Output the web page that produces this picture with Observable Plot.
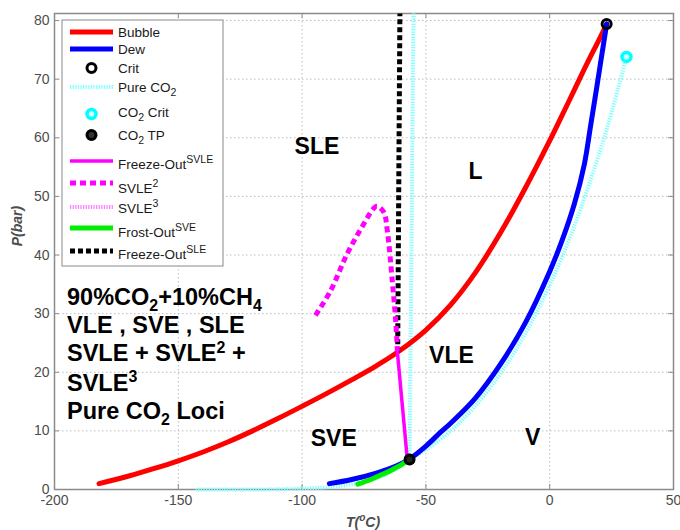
<!DOCTYPE html>
<html><head><meta charset="utf-8">
<script src="https://cdn.jsdelivr.net/npm/d3@7"></script>
<script src="https://cdn.jsdelivr.net/npm/@observablehq/plot@0.6"></script>
<style>body{margin:0;background:#fff;}</style>
</head><body><div id="chart"></div>
<script>
// ---- data ----
const xTicks = [-200, -150, -100, -50, 0, 50];
const yTicks = [0, 10, 20, 30, 40, 50, 60, 70, 80];

const bubbleT = [-182, -170, -160, -150, -140, -130, -120, -110, -100, -90, -80, -70, -61.5, -50, -40, -30, -20, -10, 0, 4.4, 10, 15, 20, 23];
const bubbleP = [1.0, 2.3, 3.55, 4.9, 6.4, 8.1, 10.0, 12.05, 14.2, 16.4, 18.7, 21.1, 23.4, 27.2, 31.5, 37.0, 43.7, 51.3, 59.5, 63.3, 68.2, 72.6, 76.8, 79.4];

const dewT = [-89, -80, -70, -62, -56.6, -50, -45, -40, -30, -20, -10, 0, 5, 10, 14, 16.5, 19, 21, 23];
const dewP = [1.0, 1.7, 2.8, 4.0, 5.2, 7.4, 9.4, 11.3, 15.6, 21.3, 28.3, 37.2, 42.5, 48.8, 55.5, 62.0, 68.6, 74.0, 79.4];

const pureT = [-143, -130, -120, -110, -100, -95, -90, -85, -80, -75, -70, -65, -60, -56.6, -50, -40, -30, -20, -10, 0, 10, 20, 25, 31];
const pureP = [0.0, 0.0, 0.01, 0.04, 0.14, 0.25, 0.38, 0.6, 0.9, 1.3, 1.95, 2.8, 4.1, 5.18, 6.8, 10.0, 14.3, 19.7, 26.5, 34.9, 45.0, 57.3, 64.3, 73.8];
const pureMeltT = [-56.6, -55.0];
const pureMeltP = [5.18, 81.2];

const freezeSvleT = [-61.5, -57.5];
const freezeSvleP = [23.4, 5.1];

const svle2T = [-94.6, -88.5, -81.8, -75.1, -71.0, -69.7, -67.0, -65.6, -63.6, -62.2, -61.5];
const svle2P = [29.7, 33.9, 40.2, 45.3, 48.0, 48.3, 47.3, 44.2, 35.7, 28.8, 23.5];

const frostSveT = [-77.5, -72, -68, -64, -60, -57.5];
const frostSveP = [0.9, 1.75, 2.5, 3.3, 4.2, 4.9];

const freezeSleT = [-61.4, -60.5];
const freezeSleP = [23.4, 81.2];

const critT = [23], critP = [79.4];
const co2CritT = [31.0], co2CritP = [73.8];
const co2TpT = [-56.6], co2TpP = [5.1];

const regionNames = ["SLE", "L", "VLE", "SVE", "V"];
const regionT = [-94.0, -30.0, -39.7, -87.2, -6.9];
const regionP = [58.5, 54.2, 22.9, 8.65, 8.9];

const legendLabels = [
  [["Bubble"]], [["Dew"]], [["Crit"]], [["Pure CO"], ["2", "sub"]],
  [["CO"], ["2", "sub"], [" Crit"]], [["CO"], ["2", "sub"], [" TP"]],
  [["Freeze-Out"], ["SVLE", "sup"]], [["SVLE"], ["2", "sup"]], [["SVLE"], ["3", "sup"]],
  [["Frost-Out"], ["SVE", "sup"]], [["Freeze-Out"], ["SLE", "sup"]]
];
const noteLines = [
  [["90%CO"], ["2", "sub"], ["+10%CH"], ["4", "sub"]],
  [["VLE , SVE , SLE"]],
  [["SVLE + SVLE"], ["2", "sup"], [" +"]],
  [["SVLE"], ["3", "sup"]],
  [["Pure CO"], ["2", "sub"], [" Loci"]]
];

// ---- helpers ----
const rows = (T, P) => T.map((t, i) => ({T: t, P: P[i]}));
const FONT = "'Liberation Sans', Arial, Helvetica, sans-serif";
const frameGray = "#8a8a8a";

const S = {
  bubble: {stroke: "#ff0000", strokeWidth: 5},
  dew: {stroke: "#0000ff", strokeWidth: 5},
  pure: {stroke: "#80ffff", strokeWidth: 4, strokeDasharray: "1.3,1.3", strokeLinecap: "butt"},
  freezeSvle: {stroke: "#ff00ff", strokeWidth: 3.5},
  svle2: {stroke: "#ff00ff", strokeWidth: 5, strokeDasharray: "6,4", strokeLinecap: "butt"},
  svle3: {stroke: "#ff80ff", strokeWidth: 4, strokeDasharray: "1.3,1.3", strokeLinecap: "butt"},
  frost: {stroke: "#00ee00", strokeWidth: 5},
  freezeSle: {stroke: "#000000", strokeWidth: 5, strokeDasharray: "5,3", strokeLinecap: "butt"}
};

const plot = Plot.plot({
  width: 680, height: 530,
  marginLeft: 54, marginRight: 7, marginTop: 13, marginBottom: 41,
  x: {domain: [-200, 50]},
  y: {domain: [0, 81.2]},
  style: {fontFamily: FONT, background: "#fff", color: "#4d4d4d"},
  marks: [
    Plot.gridX(xTicks, {stroke: "#bdbdbd", strokeOpacity: 1, strokeDasharray: "1.5,2.5"}),
    Plot.gridY(yTicks, {stroke: "#bdbdbd", strokeOpacity: 1, strokeDasharray: "1.5,2.5"}),
    Plot.ruleX(xTicks, {x: d => d, y1: 0, y2: 0.85, stroke: frameGray}),
    Plot.ruleX(xTicks, {x: d => d, y1: 80.35, y2: 81.2, stroke: frameGray}),
    Plot.ruleY(yTicks, {y: d => d, x1: -200, x2: -198, stroke: frameGray}),
    Plot.ruleY(yTicks, {y: d => d, x1: 48, x2: 50, stroke: frameGray}),
    Plot.frame({stroke: frameGray, strokeWidth: 1.5}),
    Plot.axisX(xTicks, {tickSize: 0, tickPadding: 6, tickFormat: d => String(d), fontSize: 14, label: null}),
    Plot.axisY(yTicks, {tickSize: 0, tickPadding: 5, tickFormat: d => String(d), fontSize: 14, label: null}),
    Plot.line(rows(pureT, pureP), {x: "T", y: "P", ...S.pure, curve: "catmull-rom"}),
    Plot.line(rows(pureMeltT, pureMeltP), {x: "T", y: "P", ...S.pure}),
    Plot.line(rows(bubbleT, bubbleP), {x: "T", y: "P", ...S.bubble, curve: "catmull-rom"}),
    Plot.line(rows(dewT, dewP), {x: "T", y: "P", ...S.dew, curve: "catmull-rom"}),
    Plot.line(rows(frostSveT, frostSveP), {x: "T", y: "P", ...S.frost, curve: "catmull-rom"}),
    Plot.line(rows(freezeSleT, freezeSleP), {x: "T", y: "P", ...S.freezeSle}),
    Plot.line(rows(freezeSvleT, freezeSvleP), {x: "T", y: "P", ...S.freezeSvle}),
    Plot.line(rows(svle2T, svle2P), {x: "T", y: "P", ...S.svle2, curve: "catmull-rom"}),
    Plot.dot(rows(critT, critP), {x: "T", y: "P", r: 4.5, stroke: "#000", strokeWidth: 3, fill: "none"}),
    Plot.dot(rows(co2CritT, co2CritP), {x: "T", y: "P", r: 4.5, stroke: "#00ffff", strokeWidth: 3.5, fill: "#ccffff"}),
    Plot.dot(rows(co2TpT, co2TpP), {x: "T", y: "P", r: 4.5, stroke: "#000", strokeWidth: 3, fill: "#222"}),
    Plot.text(regionNames.map((n, i) => ({n, T: regionT[i], P: regionP[i]})),
      {x: "T", y: "P", text: "n", fontSize: 23, fontWeight: "bold", fill: "#000", textAnchor: "middle", lineAnchor: "middle"})
  ]
});
document.getElementById("chart").appendChild(plot);

const svg = d3.select(plot);

function rich(g, x, y, parts, o) {
  const t = g.append("text").attr("x", x).attr("y", y)
    .attr("font-family", FONT).attr("font-size", o.size)
    .attr("font-weight", o.weight || "normal").attr("fill", o.fill || "#000")
    .attr("font-style", o.italic ? "italic" : "normal")
    .attr("text-anchor", o.anchor || "start");
  if (o.rotate) t.attr("transform", `rotate(${o.rotate},${x},${y})`);
  const r = o.ratio || 0.72;
  const down = o.down || 0.32, up = o.up || 0.42;
  let shift = 0;
  for (const [s, kind] of parts) {
    const span = t.append("tspan").text(s);
    const target = kind === "sub" ? o.size * down : kind === "sup" ? -o.size * up : 0;
    span.attr("dy", target - shift);
    shift = target;
    if (kind) span.attr("font-size", o.size * r);
  }
  return t;
}

// legend
const lg = svg.append("g");
lg.append("rect").attr("x", 62).attr("y", 20).attr("width", 161).attr("height", 246)
  .attr("fill", "#fff").attr("stroke", frameGray).attr("stroke-width", 1);
const sampleY = [32, 49, 68, 87, 114, 135, 161, 183, 207, 228, 251];
const textY = [36.5, 54, 72.5, 91.5, 116.5, 139.5, 169, 192.5, 213, 237, 259];
const legendKinds = [S.bubble, S.dew, "crit", S.pure, "co2crit", "tp", S.freezeSvle, S.svle2, S.svle3, S.frost, S.freezeSle];
legendKinds.forEach((k, i) => {
  const y = sampleY[i];
  if (k === "crit") {
    lg.append("circle").attr("cx", 91.5).attr("cy", y).attr("r", 4.5).attr("fill", "#fff").attr("stroke", "#000").attr("stroke-width", 3);
  } else if (k === "co2crit") {
    lg.append("circle").attr("cx", 91.5).attr("cy", y).attr("r", 4.5).attr("fill", "#ccffff").attr("stroke", "#00ffff").attr("stroke-width", 3.5);
  } else if (k === "tp") {
    lg.append("circle").attr("cx", 91.5).attr("cy", y).attr("r", 4.5).attr("fill", "#333").attr("stroke", "#000").attr("stroke-width", 3);
  } else {
    lg.append("line").attr("x1", 70).attr("x2", 113).attr("y1", y).attr("y2", y)
      .attr("stroke", k.stroke).attr("stroke-width", k.strokeWidth)
      .attr("stroke-dasharray", k.strokeDasharray || null);
  }
  rich(lg, 118, textY[i], legendLabels[i], {size: 13.5, fill: "#1a1a1a", ratio: 0.78});
});

// annotation block
const noteY = [305, 333, 361, 390.5, 419];
noteLines.forEach((parts, i) => rich(svg, 67, noteY[i], parts, {size: 23.5, weight: "bold", fill: "#000", ratio: 0.68, down: 0.24, up: 0.36}));

// axis titles
rich(svg, 363, 527, [["T("], ["o", "sup"], ["C)"]], {size: 14, italic: true, weight: "bold", fill: "#4d4d4d", anchor: "middle"});
rich(svg, 22, 226, [["P(bar)"]], {size: 14, italic: true, weight: "bold", fill: "#4d4d4d", anchor: "middle", rotate: -90});
</script>
</body></html>
